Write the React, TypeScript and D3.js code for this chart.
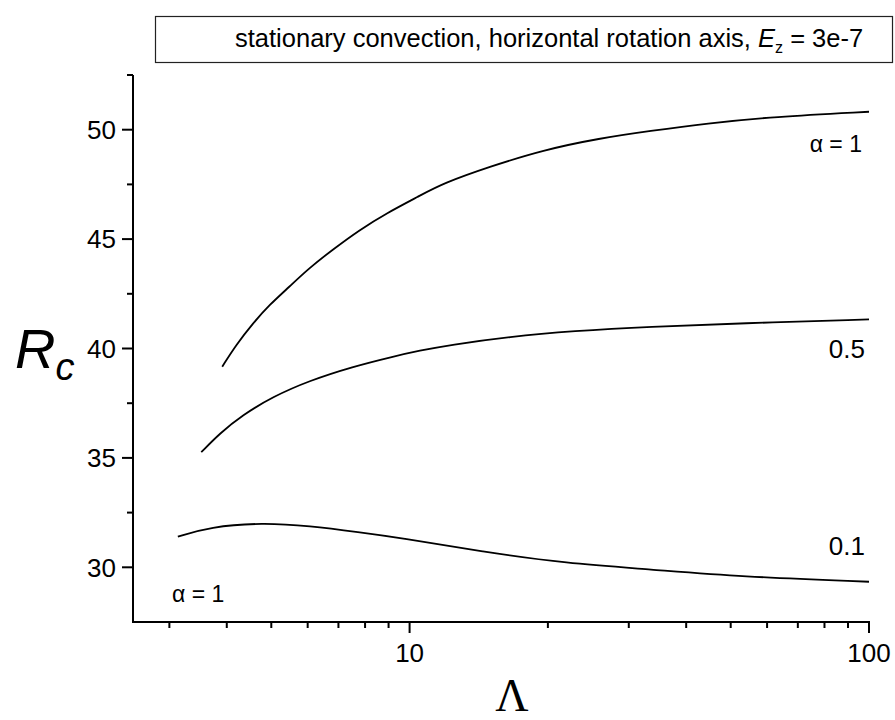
import React from "react";
import * as d3 from "d3";

const lambdaA1 = [3.91, 4.19, 4.56, 4.95, 5.48, 6.0, 6.81, 7.78, 8.9, 10.5, 11.82, 14.94, 19.51, 25.94, 33.34, 44.3, 61.9, 100];
const rcA1 = [39.17, 40.16, 41.15, 41.99, 42.83, 43.62, 44.53, 45.42, 46.18, 46.97, 47.55, 48.31, 49.07, 49.61, 49.94, 50.29, 50.59, 50.82];

const lambdaA05 = [3.52, 3.86, 4.33, 5.04, 6.05, 7.52, 9.2, 10.5, 12.22, 16.52, 22.69, 33.34, 52.4, 100];
const rcA05 = [35.26, 36.12, 36.96, 37.8, 38.53, 39.17, 39.63, 39.9, 40.16, 40.54, 40.8, 41.0, 41.15, 41.33];

const lambdaA01 = [3.13, 3.67, 4.79, 6.05, 7.78, 9.51, 14.44, 21.95, 33.34, 52.4, 100];
const rcA01 = [31.4, 31.85, 32.04, 31.89, 31.6, 31.35, 30.71, 30.18, 29.91, 29.57, 29.34];

const xMajorTicks = [10, 100];
const xMinorTicks = [3, 4, 5, 6, 7, 8, 9, 20, 30, 40, 50, 60, 70, 80, 90];
const yMajorTicks = [30, 35, 40, 45, 50];
const yMinorTicks = [32.5, 37.5, 42.5, 47.5, 52.5];

const seriesLabels = ["α = 1", "0.5", "0.1"];

export default function App() {
  const W = 895, H = 720;
  const x = d3.scaleLog().domain([2.5, 100]).range([133, 869]);
  const y = d3.scaleLinear().domain([27.5, 52.5]).range([622, 75]);
  const line = d3
    .line<[number, number]>()
    .x((d) => x(d[0]))
    .y((d) => y(d[1]))
    .curve(d3.curveBasis);

  const series = [
    lambdaA1.map((l, i) => [l, rcA1[i]] as [number, number]),
    lambdaA05.map((l, i) => [l, rcA05[i]] as [number, number]),
    lambdaA01.map((l, i) => [l, rcA01[i]] as [number, number]),
  ];

  const font = "Liberation Sans, Arial, sans-serif";
  const x0 = x(2.5), x1 = x(100), y0 = y(27.5), yTop = y(52.5);

  return (
    <svg width={W} height={H} style={{ position: "absolute", left: 0, top: 0, background: "#fff" }} fontFamily={font}>
      <rect x={0} y={0} width={W} height={H} fill="#fff" />
      {/* title box */}
      <rect x={155.5} y={16.5} width={737} height={46} fill="#fff" stroke="#222" strokeWidth={1.2} />
      <text x={235} y={47} fontSize={25.5} fill="#000">
        stationary convection, horizontal rotation axis,{" "}
        <tspan fontStyle="italic">E</tspan>
        <tspan fontSize={16} dy={6}>z</tspan>
        <tspan dy={-6}> = 3e-7</tspan>
      </text>

      {/* curves */}
      {series.map((s, i) => (
        <path key={i} d={line(s) || ""} fill="none" stroke="#000" strokeWidth={1.8} />
      ))}

      {/* axes */}
      <line x1={x0} x2={x0} y1={yTop} y2={y0 + 1} stroke="#000" strokeWidth={2} />
      <line x1={x0 - 1} x2={x1 + 1} y1={y0} y2={y0} stroke="#000" strokeWidth={2} />
      {yMajorTicks.map((t) => (
        <g key={"ym" + t}>
          <line x1={x0 - 11} x2={x0} y1={y(t)} y2={y(t)} stroke="#000" strokeWidth={2} />
          <text x={116} y={y(t)} dy="0.36em" textAnchor="end" fontSize={26}>
            {t}
          </text>
        </g>
      ))}
      {yMinorTicks.map((t) => (
        <line key={"yn" + t} x1={x0 - 6} x2={x0} y1={y(t)} y2={y(t)} stroke="#000" strokeWidth={2} />
      ))}
      {xMajorTicks.map((t) => (
        <g key={"xm" + t}>
          <line x1={x(t)} x2={x(t)} y1={y0} y2={y0 + 11} stroke="#000" strokeWidth={2} />
          <text x={x(t)} y={662} textAnchor="middle" fontSize={26}>
            {t}
          </text>
        </g>
      ))}
      {xMinorTicks.map((t) => (
        <line key={"xn" + t} x1={x(t)} x2={x(t)} y1={y0} y2={y0 + 6} stroke="#000" strokeWidth={2} />
      ))}

      {/* series labels */}
      <text x={862} y={152} textAnchor="end" fontSize={23}>{seriesLabels[0]}</text>
      <text x={865} y={358} textAnchor="end" fontSize={26}>{seriesLabels[1]}</text>
      <text x={865} y={555} textAnchor="end" fontSize={26}>{seriesLabels[2]}</text>
      <text x={172} y={602} fontSize={23}>{seriesLabels[0]}</text>

      {/* axis titles */}
      <text x={15} y={368} fontSize={56} fontStyle="italic">
        R<tspan fontSize={38} dy={12}>c</tspan>
      </text>
      <text x={512} y={711} textAnchor="middle" fontSize={46} fontFamily="Liberation Serif, Times New Roman, serif">
        Λ
      </text>
    </svg>
  );
}
